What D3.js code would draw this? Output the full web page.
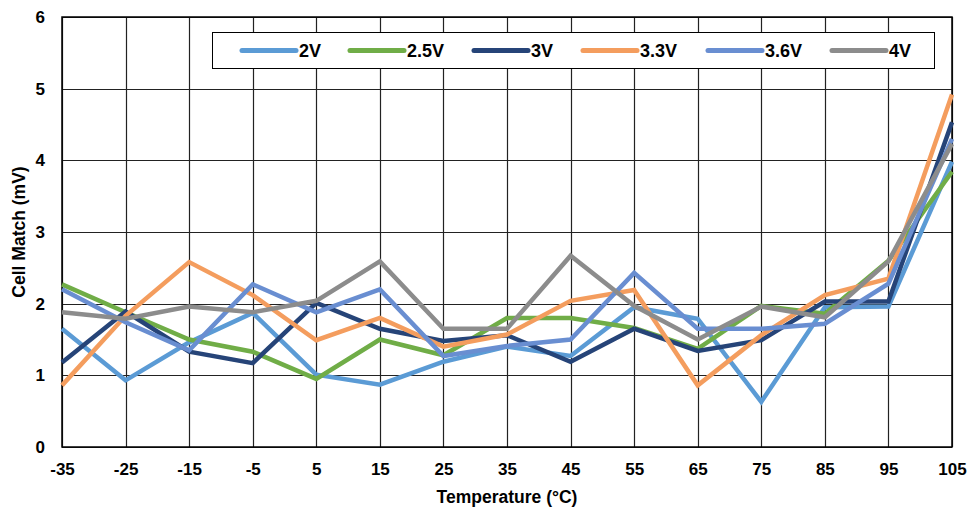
<!DOCTYPE html>
<html>
<head>
<meta charset="utf-8">
<script src="https://cdn.jsdelivr.net/npm/d3@7"></script>
<style>
  html, body { margin: 0; padding: 0; background: #fff; }
  svg { display: block; }
  text { font-family: "Liberation Sans", Arial, sans-serif; font-weight: bold; fill: #000; }
</style>
</head>
<body>
<svg id="chart" width="971" height="509"></svg>
<script>
const temperatures = [-35, -25, -15, -5, 5, 15, 25, 35, 45, 55, 65, 75, 85, 95, 105];
const seriesNames = ["2V", "2.5V", "3V", "3.3V", "3.6V", "4V"];
const v2_0 = [1.65, 0.93, 1.46, 1.87, 1.01, 0.87, 1.19, 1.40, 1.27, 1.95, 1.79, 0.63, 1.95, 1.96, 3.98];
const v2_5 = [2.27, 1.88, 1.50, 1.33, 0.95, 1.50, 1.28, 1.80, 1.80, 1.66, 1.37, 1.97, 1.86, 2.60, 3.84];
const v3_0 = [1.18, 1.89, 1.33, 1.17, 2.01, 1.65, 1.48, 1.56, 1.19, 1.65, 1.34, 1.49, 2.03, 2.03, 4.53];
const v3_3 = [0.86, 1.83, 2.58, 2.12, 1.49, 1.80, 1.40, 1.57, 2.04, 2.19, 0.86, 1.56, 2.12, 2.35, 4.92];
const v3_6 = [2.20, 1.74, 1.35, 2.27, 1.88, 2.20, 1.27, 1.41, 1.50, 2.43, 1.65, 1.65, 1.72, 2.28, 4.30];
const v4_0 = [1.88, 1.79, 1.96, 1.88, 2.04, 2.59, 1.65, 1.65, 2.67, 1.97, 1.50, 1.96, 1.81, 2.59, 4.23];
const seriesValues = [v2_0, v2_5, v3_0, v3_3, v3_6, v4_0];
const seriesColors = ["#5B9BD5", "#70AD47", "#264478", "#F49D5E", "#698ED1", "#8C8C8C"];
const yTicks = [0, 1, 2, 3, 4, 5, 6];
const xTitle = "Temperature (°C)";
const yTitle = "Cell Match (mV)";

const svg = d3.select("#chart");
const L = 62, R = 952, T = 17, B = 447;

const x = d3.scaleLinear().domain([-35, 105]).range([L, R]);
const y = d3.scaleLinear().domain([0, 6]).range([B, T]);

// grid
const g = svg.append("g");
g.selectAll("line.vg").data(temperatures).enter().append("line")
  .attr("x1", d => Math.round(x(d)) + 0.5).attr("x2", d => Math.round(x(d)) + 0.5)
  .attr("y1", T).attr("y2", B)
  .attr("stroke", "#222").attr("stroke-width", 1.2);
g.selectAll("line.hg").data(yTicks).enter().append("line")
  .attr("y1", d => Math.round(y(d)) + 0.5).attr("y2", d => Math.round(y(d)) + 0.5)
  .attr("x1", L).attr("x2", R)
  .attr("stroke", "#222").attr("stroke-width", 1.2);

// border
svg.append("rect").attr("x", L).attr("y", T).attr("width", R - L).attr("height", B - T)
  .attr("fill", "none").attr("stroke", "#000").attr("stroke-width", 1.5);

const FS = "17px";
// axes (labels only)
const xAxis = d3.axisBottom(x).tickValues(temperatures).tickSize(0).tickPadding(16).tickFormat(d => String(d));
const xa = svg.append("g").attr("transform", `translate(0,${B})`).call(xAxis);
xa.select(".domain").remove();
xa.selectAll("text").style("font-size", FS).style("font-family", "Liberation Sans, Arial, sans-serif").style("font-weight", "bold").attr("fill", "#000");

const yAxis = d3.axisLeft(y).tickValues(yTicks).tickSize(0).tickPadding(17).tickFormat(d => String(d));
const ya = svg.append("g").attr("transform", `translate(${L},0)`).call(yAxis);
ya.select(".domain").remove();
ya.selectAll("text").style("font-size", FS).style("font-family", "Liberation Sans, Arial, sans-serif").style("font-weight", "bold").attr("fill", "#000");

// titles
svg.append("text").attr("x", (L + R) / 2).attr("y", 503).attr("text-anchor", "middle")
  .style("font-size", "17.5px").text(xTitle);
svg.append("text").attr("transform", `translate(25,${(T + B) / 2}) rotate(-90)`).attr("text-anchor", "middle")
  .style("font-size", "17.5px").text(yTitle);

// lines
const line = d3.line().x((d, i) => x(temperatures[i])).y(d => y(d));
const plot = svg.append("g");
seriesValues.forEach((vals, k) => {
  plot.append("path").datum(vals).attr("d", line)
    .attr("fill", "none").attr("stroke", seriesColors[k]).attr("stroke-width", 4.5)
    .attr("stroke-linejoin", "miter").attr("stroke-linecap", "butt");
});

// legend
const lg = svg.append("g");
lg.append("rect").attr("x", 212.5).attr("y", 32.5).attr("width", 722).attr("height", 36)
  .attr("fill", "#fff").attr("stroke", "#000").attr("stroke-width", 1);
const legendStarts = [242, 350, 474, 583, 708, 832];
seriesNames.forEach((name, k) => {
  const lx = legendStarts[k];
  lg.append("line").attr("x1", lx).attr("x2", lx + 54).attr("y1", 50.5).attr("y2", 50.5)
    .attr("stroke", seriesColors[k]).attr("stroke-width", 5).attr("stroke-linecap", "round");
  lg.append("text").attr("x", lx + 57).attr("y", 57).style("font-size", "18px").text(name);
});
</script>
</body>
</html>
